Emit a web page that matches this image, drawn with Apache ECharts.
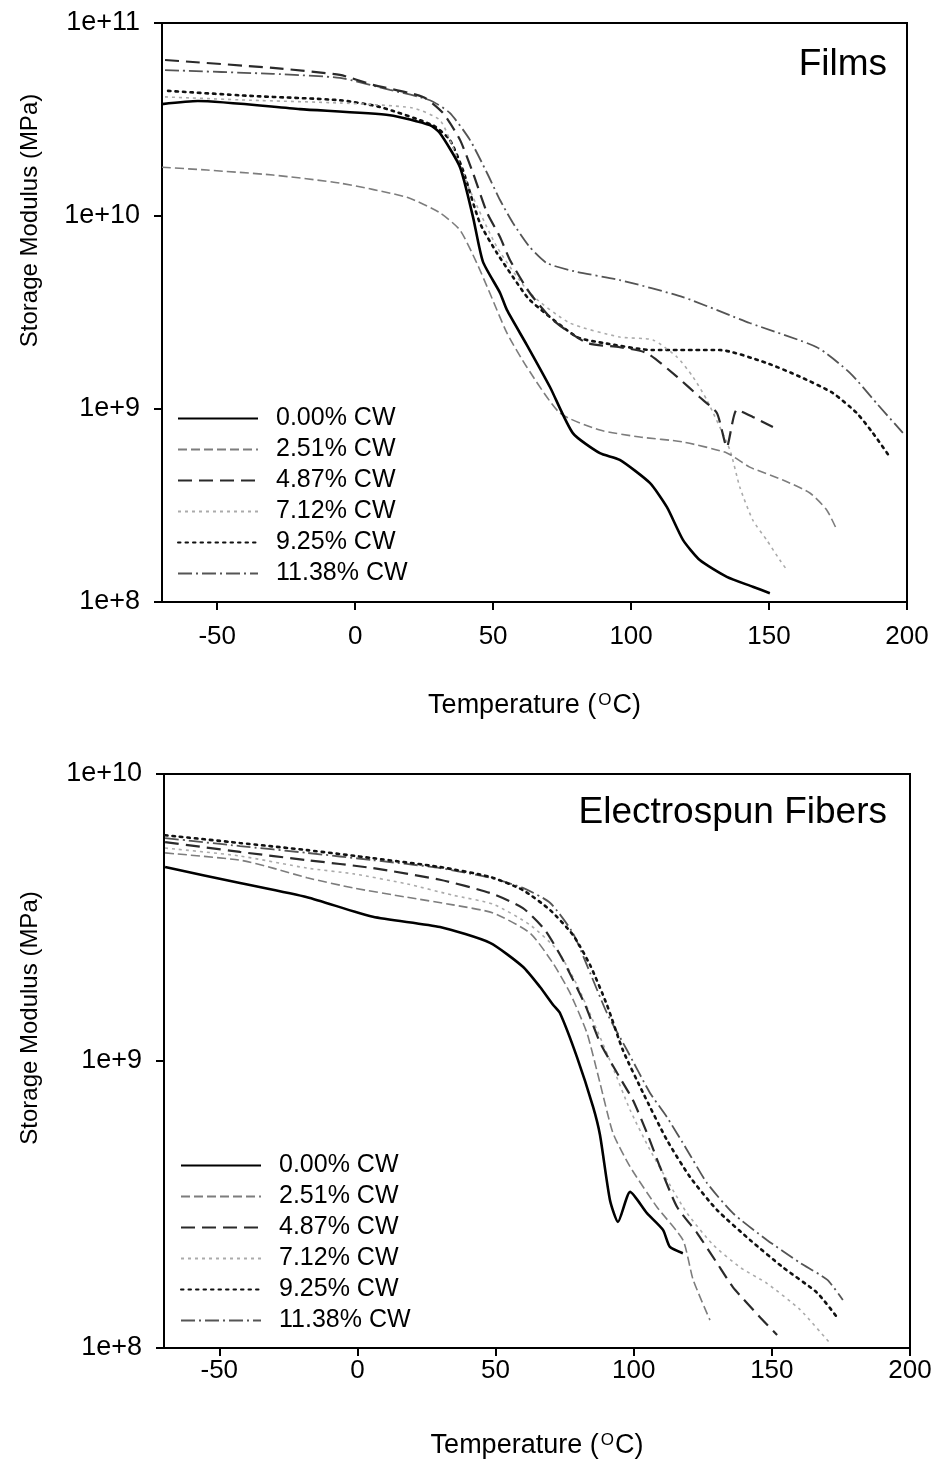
<!DOCTYPE html>
<html><head><meta charset="utf-8">
<script src="https://cdn.jsdelivr.net/npm/echarts@6/dist/echarts.min.js"></script>
<style>html,body{margin:0;padding:0;background:#fff}#c{width:939px;height:1465px}</style>
</head><body><div id="c"></div><script>
// ---- data (temperature °C, storage modulus MPa) ----
const seriesNames = ['0.00% CW','2.51% CW','4.87% CW','7.12% CW','9.25% CW','11.38% CW'];
const panelTitles = ['Films','Electrospun Fibers'];
const xTickValues = [-50,0,50,100,150,200];
const yAxisTitle = 'Storage Modulus (MPa)';

// Films
const films000 = [[-70,3.80e10],[-57,3.94e10],[-20,3.58e10],[12.6,3.33e10],[27,2.96e10],[30.7,2.69e10],[38,1.79e10],[42.7,9.9e9],[46.3,5.8e9],[52.5,4.0e9],[55,3.26e9],[62.2,2.15e9],[70.6,1.30e9],[78.9,7.5e8],[88.7,5.9e8],[95.9,5.45e8],[106.8,4.14e8],[113,3.1e8],[118.8,2.1e8],[124.9,1.65e8],[134.7,1.35e8],[144.1,1.2e8],[150.3,1.11e8]];
const films251 = [[-70,1.79e10],[-53.7,1.73e10],[-29.8,1.63e10],[-5.5,1.48e10],[18.8,1.25e10],[30.7,1.04e10],[38,8.45e9],[44.1,5.70e9],[48.8,3.99e9],[55,2.48e9],[62.2,1.65e9],[74.2,9.53e8],[88.7,7.78e8],[103.2,7.16e8],[118.8,6.75e8],[134.7,5.92e8],[143,5.0e8],[155,4.29e8],[164.8,3.67e8],[170.9,3.0e8],[174.6,2.36e8]];
const films487 = [[-68.9,6.43e10],[-29.8,5.85e10],[-5.5,5.38e10],[6.4,4.78e10],[24.6,4.14e10],[31.8,3.42e10],[38,2.48e10],[42.7,1.67e10],[47.8,1.04e10],[52.5,7.78e9],[56.1,5.92e9],[63.3,3.99e9],[71.7,2.89e9],[84,2.20e9],[95.9,2.09e9],[105.7,1.95e9],[116.6,1.47e9],[124.9,1.15e9],[131.1,9.53e8],[134.7,6.35e8],[138.3,9.89e8],[144.1,9.1e8],[151.4,8.07e8]];
const films712 = [[-68.9,4.14e10],[-38.1,3.98e10],[-5.5,3.85e10],[20.9,3.63e10],[30.7,3.14e10],[35.4,2.28e10],[41.6,1.36e10],[51.4,6.90e9],[63.3,3.99e9],[77.8,2.79e9],[95.9,2.36e9],[107.9,2.28e9],[116.6,1.86e9],[122.4,1.47e9],[127.5,1.11e9],[135.8,6.14e8],[139.4,3.94e8],[144.1,2.66e8],[149.2,2.09e8],[153.9,1.65e8],[156.4,1.47e8]];
const films925 = [[-67.8,4.45e10],[-38,4.19e10],[-5.5,3.98e10],[9,3.67e10],[28.2,2.95e10],[34.3,2.48e10],[39,1.74e10],[45.2,9.2e9],[51.4,6.43e9],[57.2,4.83e9],[63.3,3.67e9],[80.4,2.36e9],[89.8,2.20e9],[107.9,2.02e9],[132.2,2.02e9],[149.2,1.73e9],[161.2,1.47e9],[173.1,1.21e9],[181.8,9.53e8],[187.6,7.52e8],[193.8,5.64e8]];
const films1138 = [[-68.9,5.70e10],[-29.8,5.45e10],[-5.5,5.19e10],[12.6,4.50e10],[27.1,3.98e10],[34.3,3.42e10],[41.6,2.48e10],[47.8,1.67e10],[52.5,1.21e10],[57.2,9.20e9],[63.3,6.90e9],[69.5,5.70e9],[80.4,5.13e9],[95.9,4.66e9],[118.8,3.80e9],[143,2.79e9],[167.3,2.09e9],[179.3,1.54e9],[189,1.07e9],[198.5,7.52e8]];

// Electrospun fibers
const fibers000 = [[-69.6,4.74e9],[-42.5,4.17e9],[-18.2,3.72e9],[5.6,3.18e9],[29.9,2.93e9],[48,2.58e9],[59.9,2.13e9],[66.1,1.81e9],[70.8,1.57e9],[73.3,1.47e9],[79.5,1.03e9],[85.3,6.92e8],[87.8,5.52e8],[91.4,3.28e8],[94.3,2.75e8],[98.7,3.50e8],[104.8,2.95e8],[110.6,2.58e8],[113.1,2.25e8],[117.8,2.14e8]];
const fibers251 = [[-69.6,5.31e9],[-42.5,5.01e9],[-30.6,4.70e9],[-18.2,4.35e9],[-1.6,4.01e9],[18,3.72e9],[34.6,3.50e9],[49.1,3.28e9],[62.5,2.79e9],[70.8,2.19e9],[76.9,1.73e9],[83.1,1.25e9],[87.8,8.38e8],[92.5,5.61e8],[98.7,4.28e8],[108.4,3.10e8],[117.8,2.38e8],[121.5,1.73e8],[127.6,1.25e8]];
const fibers487 = [[-69.6,5.79e9],[-42.5,5.35e9],[-18.2,5.01e9],[5.6,4.70e9],[29.9,4.28e9],[48,3.85e9],[59.9,3.41e9],[67.9,2.86e9],[74.4,2.25e9],[82.4,1.57e9],[87.8,1.16e9],[94,9.08e8],[99.7,7.31e8],[104.8,5.61e8],[109.5,4.28e8],[115.7,3.10e8],[122.9,2.52e8],[130.1,1.98e8],[135.9,1.63e8],[145.7,1.28e8],[151.9,1.11e8]];
const fibers712 = [[-69.6,5.52e9],[-42.5,5.18e9],[-18.2,4.70e9],[-1.6,4.49e9],[18,4.14e9],[34.6,3.78e9],[49.1,3.52e9],[62.5,2.98e9],[72.2,2.44e9],[79.5,1.84e9],[86,1.33e9],[92.1,9.68e8],[98.7,6.75e8],[105.9,4.90e8],[113.1,3.70e8],[119.3,2.95e8],[128.7,2.29e8],[138.5,1.91e8],[148.2,1.68e8],[160.2,1.36e8],[171,1.04e8]];
const fibers925 = [[-69.6,6.12e9],[-42.5,5.75e9],[-18.2,5.43e9],[5.6,5.09e9],[29.9,4.74e9],[48,4.38e9],[59.9,3.94e9],[69.7,3.36e9],[78,2.75e9],[84.2,2.16e9],[90.3,1.57e9],[96.1,1.09e9],[103.4,7.74e8],[112,5.31e8],[120.4,3.94e8],[130.1,3.03e8],[142.1,2.38e8],[154,1.91e8],[166.3,1.56e8],[173.6,1.28e8]];
const fibers1138 = [[-69.6,5.98e9],[-42.5,5.61e9],[-18.2,5.31e9],[5.6,5.01e9],[29.9,4.70e9],[48,4.35e9],[59.9,4.01e9],[69.7,3.56e9],[78,2.79e9],[84.2,2.03e9],[90.3,1.47e9],[97.6,1.09e9],[105.9,7.74e8],[112,6.38e8],[119.3,4.90e8],[126.5,3.76e8],[135.9,2.95e8],[148.2,2.38e8],[160.2,1.98e8],[170,1.73e8],[175.7,1.47e8]];

const filmsSets = [films000, films251, films487, films712, films925, films1138];
const fibersSets = [fibers000, fibers251, fibers487, fibers712, fibers925, fibers1138];

// ---- styles ----
const FONT = '"Liberation Sans", Arial, sans-serif';
const lineStyles = [
  {color:'#000000', width:2.6, type:'solid'},
  {color:'#7d7d7d', width:1.6, type:[9,4]},
  {color:'#2a2a2a', width:2.2, type:[14,7]},
  {color:'#ababab', width:1.6, type:[3,4]},
  {color:'#111111', width:2.6, type:[2.5,5], cap:'round'},
  {color:'#555555', width:1.8, type:[14,4,2,4]}
];

function makeSeries(sets, k) {
  return sets.map((d, i) => ({
    name: seriesNames[i], type: 'line', xAxisIndex: k, yAxisIndex: k,
    data: d, symbol: 'none', smooth: 0.2, silent: true,
    itemStyle: {color: 'rgba(0,0,0,0)'},
    lineStyle: Object.assign({}, lineStyles[i]), z: 10 - i
  }));
}

function xAxisCfg(k, margin, nameGap) {
  return {
    gridIndex: k, type: 'value', min: -70, max: 200,
    axisLine: {onZero:false, lineStyle: {color:'#000', width:2}},
    axisTick: {length: 8, lineStyle: {color:'#000', width:2}, customValues: xTickValues},
    axisLabel: {customValues: xTickValues, fontSize: 26, color:'#000', fontFamily: FONT, margin: margin},
    splitLine: {show:false},
    name: 'Temperature ({sup|O}C)', nameLocation: 'middle', nameGap: nameGap,
    nameTextStyle: {fontSize: 27, color:'#000', fontFamily: FONT,
      rich: {sup: {fontSize: 17, color:'#000', fontFamily: FONT, verticalAlign:'top', padding:[0,1,0,2]}}}
  };
}
function yAxisCfg(k, max, nameGap, shift) {
  return {
    gridIndex: k, type: 'log', logBase: 10, min: 1e8, max: max,
    axisLine: {show:true, onZero:false, lineStyle: {color:'#000', width:2}},
    axisTick: {show:true, length: 8, lineStyle: {color:'#000', width:2}},
    minorTick: {show:false},
    axisLabel: {fontSize: 27, color:'#000', fontFamily: FONT, margin: 22,
      formatter: v => '1e+' + Math.round(Math.log10(v))},
    splitLine: {show:false},
    name: yAxisTitle, nameLocation: 'middle', nameGap: nameGap, nameRotate: 90,
    nameTextStyle: {fontSize: 24, color:'#000', fontFamily: FONT, padding:[0,0,0,shift]}
  };
}
function legendCfg(left, top) {
  return {
    data: seriesNames, orient: 'vertical', left: left, top: top,
    itemWidth: 80, itemHeight: 14, itemGap: 6, selectedMode: false, padding: 0,
    itemStyle: {opacity: 0},
    textStyle: {fontSize: 25, lineHeight: 25, color:'#000', fontFamily: FONT, padding:[0,0,0,13]}
  };
}

const chart = echarts.init(document.getElementById('c'));
chart.setOption({
  animation: false,
  backgroundColor: '#fff',
  title: [
    {text: panelTitles[0], right: 52, top: 46, padding: 0,
     textStyle: {fontSize: 37, fontWeight:'normal', color:'#000', fontFamily: FONT}},
    {text: panelTitles[1], right: 52, top: 794, padding: 0,
     textStyle: {fontSize: 37, fontWeight:'normal', color:'#000', fontFamily: FONT}}
  ],
  legend: [legendCfg(177, 406), legendCfg(180, 1153)],
  grid: [
    {left: 162, right: 32, top: 23, bottom: 863, show: true, borderColor:'#000', borderWidth: 2},
    {left: 164, right: 29, top: 774, bottom: 117, show: true, borderColor:'#000', borderWidth: 2}
  ],
  xAxis: [xAxisCfg(0, 22, 90), xAxisCfg(1, 10, 84)],
  yAxis: [yAxisCfg(0, 1e11, 120, 184), yAxisCfg(1, 1e10, 122, 86)],
  series: makeSeries(filmsSets, 0).concat(makeSeries(fibersSets, 1))
});
</script></body></html>
